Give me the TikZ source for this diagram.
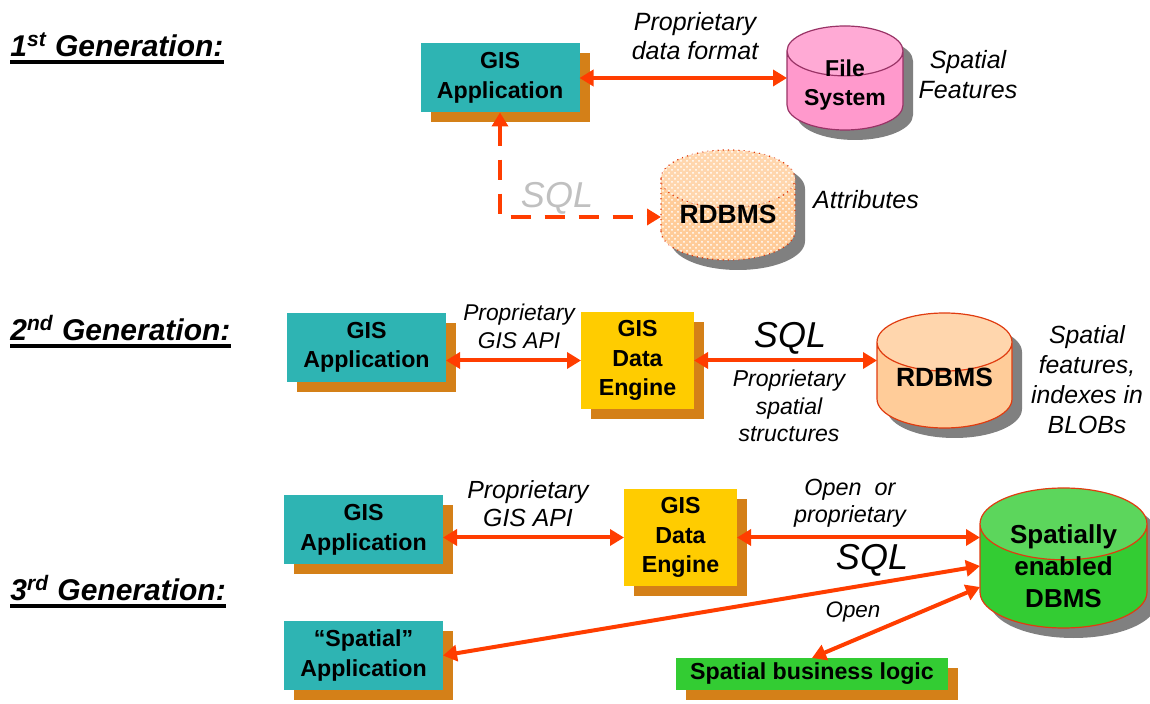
\documentclass[tikz,border=0pt]{standalone}
\usepackage{fontspec}
\setmainfont{Liberation Sans}
\usepackage{tikz}
\usetikzlibrary{arrows.meta,shapes.geometric,shadows,patterns}
\definecolor{appteal}{HTML}{2EB4B3}
\definecolor{shadeorange}{HTML}{D48018}
\definecolor{engyellow}{HTML}{FFCC00}
\definecolor{dbgreen}{HTML}{33CC33}
\definecolor{dbgreentop}{HTML}{5CD65C}
\definecolor{fspink}{HTML}{FF99CC}
\definecolor{fspinktop}{HTML}{FFAAD5}
\definecolor{fsborder}{HTML}{993366}
\definecolor{peach}{HTML}{FFCC99}
\definecolor{peachtop}{HTML}{FFD6AD}
\definecolor{dbborder}{HTML}{E03C10}
\definecolor{link}{HTML}{FF3D00}
\definecolor{sqlgrey}{HTML}{C0C0C0}
\definecolor{cylshadow}{HTML}{808080}
\tikzset{
  gen/.style={font=\bfseries\itshape\fontsize{15}{18}\selectfont,inner sep=0pt,anchor=base west},
  ulbar/.style={line width=2pt},
  box/.style={align=center,inner sep=0pt,outer sep=0pt,font=\bfseries\fontsize{11.6}{14.8}\selectfont,
    drop shadow={shadow xshift=5pt,shadow yshift=-5pt,fill=shadeorange,opacity=1}},
  appbox/.style={box,fill=appteal,minimum width=79.5pt,minimum height=34.5pt},
  engbox/.style={box,fill=engyellow,minimum width=56.5pt,minimum height=48.5pt},
  logicbox/.style={box,fill=dbgreen,minimum width=136pt,minimum height=16pt},
  cylbase/.style={cylinder,shape border rotate=90,aspect=0.43,inner sep=0pt,outer sep=0pt,anchor=shape center},
  cyl/.style={cylbase,cylinder uses custom fill,line width=.6pt},
  cylshade/.style={cylbase,fill=cylshadow},
  cyltext/.style={align=center,font=\bfseries\fontsize{13.2}{16}\selectfont},
  note/.style={align=center,font=\itshape\fontsize{12.5}{14.5}\selectfont},
  sqlnote/.style={font=\itshape\fontsize{18}{20}\selectfont},
  arr/.style={{Triangle[length=7pt,width=8pt]}-{Triangle[length=7pt,width=8pt]},line width=2pt,draw=link},
  dasharr/.style={arr,dash pattern=on 10pt off 7pt}
}
\begin{document}
\begin{tikzpicture}[x=0.5pt,y=-0.5pt]
\useasboundingbox (0,0) rectangle (1150,704);
\node[gen] (g1) at (10,57) {1\textsuperscript{st} Generation:};
\node[gen] (g2) at (10,341) {2\textsuperscript{nd} Generation:};
\node[gen] (g3) at (10,601) {3\textsuperscript{rd} Generation:};
\foreach \g in {g1,g2,g3}\draw[ulbar] ([yshift=-2.5pt]\g.base west) -- ([yshift=-2.5pt]\g.base east);

\node[appbox] (app1) at (500,78) {GIS\\Application};
\node[cylshade,text width=58pt,minimum height=52pt] (fs-sh) at (855,88) {};
\node[cyl,draw=fsborder,cylinder body fill=fspink,cylinder end fill=fspinktop,text width=58pt,minimum height=52pt] (fs) at (845,78) {};
\node[cyltext,font=\bfseries\fontsize{11.5}{14.5}\selectfont] (fs-txt) at (845,85) {File\\System};
\node[cylshade,text width=67pt,minimum height=55pt] (rdb1-sh) at (738,215) {};
\node[cyl,draw=dbborder,dotted,cylinder body fill=peach,cylinder end fill=peachtop,text width=67pt,minimum height=55pt,
  postaction={pattern=crosshatch dots,pattern color=white}] (rdb1) at (728,205) {};
\node[cyltext] (rdb1-txt) at (728,214) {RDBMS};
\node[note] (fmt1) at (695,36) {Proprietary\\data format};
\node[note,font=\itshape\fontsize{12.5}{15}\selectfont] (feat1) at (968,75) {Spatial\\Features};
\node[note] (attr1) at (866,200) {Attributes};
\node[sqlnote,text=sqlgrey] (sql1) at (557,198) {SQL};
\draw[arr] (app1.east) -- (app1.east -| fs.west);
\draw[dasharr] (app1.south) |- ([yshift=-6pt]rdb1.shape center -| rdb1.west);

\node[appbox] (app2) at (366.5,347.5) {GIS\\Application};
\node[engbox] (eng2) at (637.5,360.5) {GIS\\Data\\Engine};
\node[cylshade,text width=67.5pt,minimum height=57.5pt] (rdb2-sh) at (954.5,380.5) {};
\node[cyl,draw=dbborder,cylinder body fill=peach,cylinder end fill=peachtop,text width=67.5pt,minimum height=57.5pt] (rdb2) at (944.5,370.5) {};
\node[cyltext] (rdb2-txt) at (944.5,377) {RDBMS};
\node[note,font=\itshape\fontsize{11.4}{14}\selectfont] (api2) at (519,326) {Proprietary\\GIS API};
\node[sqlnote] (sql2) at (790,338) {SQL};
\node[note,font=\itshape\fontsize{11.5}{13.8}\selectfont] (struct2) at (789,406) {Proprietary\\spatial\\structures};
\node[note,font=\itshape\fontsize{12.4}{15}\selectfont] (feat2) at (1087,380) {Spatial\\features,\\indexes in\\BLOBs};
\draw[arr] (eng2.west) -- (eng2.west -| app2.east);
\draw[arr] (eng2.east) -- (eng2.east -| rdb2.west);

\node[appbox] (app3) at (363.5,530) {GIS\\Application};
\node[engbox] (eng3) at (680.5,537.5) {GIS\\Data\\Engine};
\node[appbox] (sapp) at (363.5,655.5) {“Spatial”\\Application};
\node[cylshade,text width=83.5pt,minimum height=70pt] (dbms-sh) at (1073.5,568) {};
\node[cyl,draw=dbborder,cylinder body fill=dbgreen,cylinder end fill=dbgreentop,text width=83.5pt,minimum height=70pt] (dbms) at (1063.5,558) {};
\node[cyltext,font=\bfseries\fontsize{13}{16}\selectfont] (dbms-txt) at (1063.5,566) {Spatially\\enabled\\DBMS};
\node[logicbox] (logic) at (812,674) {Spatial business logic};
\node[note,font=\itshape\fontsize{12.4}{14}\selectfont] (api3) at (528,504) {Proprietary\\GIS API};
\node[note,font=\itshape\fontsize{11.7}{13.5}\selectfont] (open3) at (850,503) {Open~~or\\proprietary};
\node[sqlnote] (sql3) at (872,560) {SQL};
\node[note,font=\itshape\fontsize{11.2}{13}\selectfont] (openb3) at (853,612) {Open};
\draw[arr] (eng3.west) -- (eng3.west -| app3.east);
\draw[arr] (eng3.east) -- (eng3.east -| dbms.west);
\draw[arr] (sapp.east) -- ([yshift=-4pt]dbms.shape center -| dbms.west);
\draw[arr] (logic.north) -- ([yshift=-14.5pt]dbms.shape center -| dbms.west);
\end{tikzpicture}
\end{document}
